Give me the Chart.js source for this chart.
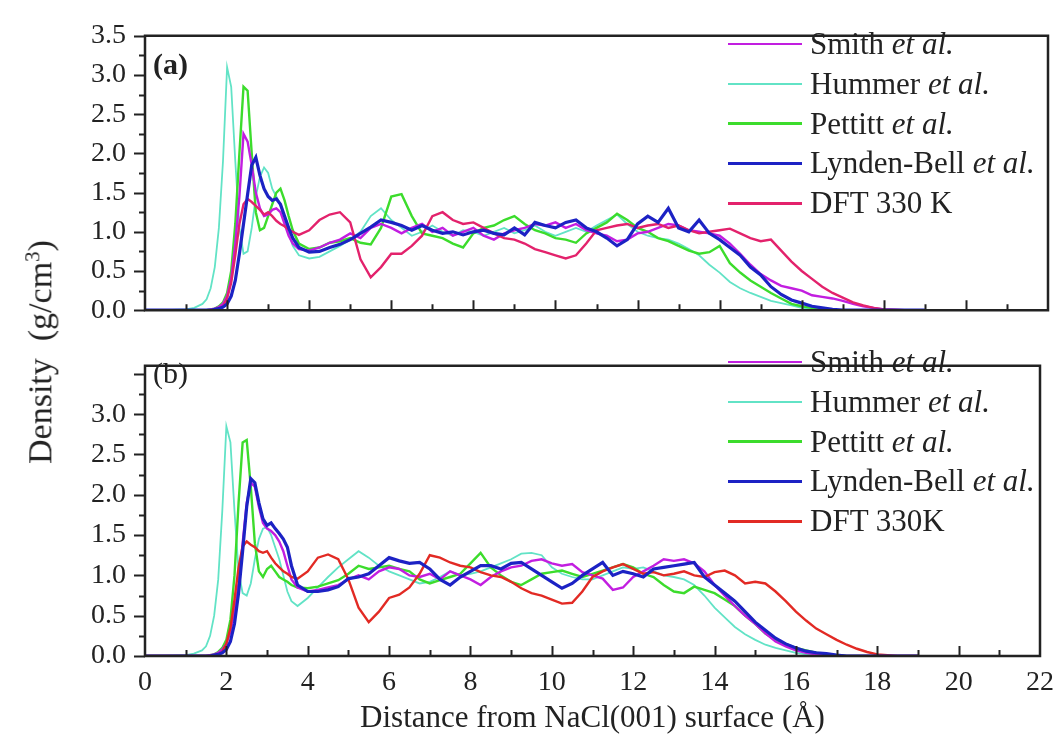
<!DOCTYPE html>
<html>
<head>
<meta charset="utf-8">
<script src="https://cdn.jsdelivr.net/npm/chart.js@4.4.0/dist/chart.umd.min.js"></script>
<style>
  html, body { margin: 0; padding: 0; background: #fff; }
  #wrap { position: relative; width: 1064px; height: 740px; font-family: 'Liberation Serif', 'DejaVu Serif', serif; color: #222; overflow: hidden; }
  canvas { position: absolute; left: 0; }
  #topChart { top: 0; }
  #bottomChart { top: 330px; }
  .legend-row { position: absolute; left: 728px; height: 40px; display: flex; align-items: center; font-size: 31px; white-space: nowrap; }
  .legend-row .swatch { width: 74px; margin-right: 8px; }
  .panel-label { position: absolute; left: 153px; font-size: 30px; line-height: 1; }
  #ytitle { position: absolute; left: 40px; top: 352px; transform: translate(-50%, -50%) rotate(-90deg); white-space: nowrap; font-size: 34px; }
  #ytitle sup { font-size: 21px; }
</style>
</head>
<body>
<div id="wrap">
  <canvas id="topChart" width="1064" height="346"></canvas>
  <canvas id="bottomChart" width="1064" height="410"></canvas>
  <div class="panel-label" style="top:49px; font-weight:bold;">(a)</div>
  <div class="panel-label" style="top:358px;">(b)</div>
  <div id="ytitle">Density&nbsp;&nbsp;(g/cm<sup>3</sup>)</div>
  <div id="legendTop"></div>
  <div id="legendBottom"></div>
</div>
<script>
// distance from the surface (Å), shared by all curves
const distance = [0, 0.5, 1.0, 1.2, 1.4, 1.5, 1.6, 1.7, 1.8, 1.9,
  2.0, 2.1, 2.2, 2.3, 2.4, 2.5, 2.6, 2.7, 2.8, 2.9,
  3.0, 3.1, 3.2, 3.3, 3.4, 3.5, 3.6, 3.75, 4.0,
  4.25, 4.5, 4.75, 5.0, 5.25, 5.5, 5.75, 6.0,
  6.25, 6.5, 6.75, 7.0, 7.25, 7.5, 7.75, 8.0,
  8.25, 8.5, 8.75, 9.0, 9.25, 9.5, 9.75, 10.0,
  10.25, 10.5, 10.75, 11.0, 11.25, 11.5, 11.75, 12.0,
  12.25, 12.5, 12.75, 13.0, 13.25, 13.5, 13.75, 14.0,
  14.25, 14.5, 14.75, 15.0, 15.25, 15.5, 15.75, 16.0,
  16.25, 16.5, 16.75, 17.0, 17.25, 17.5, 17.75, 18.0,
  18.5, 19.0];

const seriesNames = ['Smith et al.', 'Hummer et al.', 'Pettitt et al.', 'Lynden-Bell et al.'];
const dftNameTop = 'DFT 330 K';
const dftNameBottom = 'DFT 330K';

const xTicks = [0, 22, 2];
const yTicksTop = [0, 3.5, 0.5];
const yTicksBottom = [0, 3.6, 0.5];

// panel (a)
const smithA = [0, 0, 0, 0, 0, 0, 0.01, 0.02, 0.04, 0.08,
  0.18, 0.4, 0.85, 1.45, 2.25, 2.15, 1.85, 1.5, 1.3, 1.2,
  1.22, 1.28, 1.3, 1.25, 1.1, 0.95, 0.85, 0.78, 0.76,
  0.8, 0.86, 0.9, 0.98, 0.92, 1.05, 1.1, 1.05,
  0.98, 1.05, 1.1, 1.0, 1.05, 0.95, 1.0, 1.05,
  0.95, 0.9, 0.98, 1.02, 1.05, 1.1, 1.08, 1.12,
  1.05, 1.1, 1.02, 0.98, 0.95, 0.88, 0.9, 0.98,
  1.0, 1.05, 1.1, 1.08, 1.02, 1.0, 0.98, 0.95,
  0.85, 0.72, 0.58, 0.46, 0.38, 0.31, 0.28, 0.25,
  0.19, 0.17, 0.15, 0.12, 0.08, 0.05, 0.03, 0.01,
  0, 0];
const hummerA = [0, 0, 0.01, 0.03, 0.08, 0.14, 0.28, 0.55, 1.05, 1.9,
  3.1, 2.85, 1.9, 1.05, 0.72, 0.75, 1.05, 1.45, 1.7, 1.82,
  1.75, 1.55, 1.45, 1.35, 1.2, 0.98, 0.82, 0.7, 0.66,
  0.68, 0.75, 0.82, 0.9, 1.0, 1.2, 1.3, 1.15,
  1.05, 0.95, 1.0, 1.08, 1.0, 0.95, 1.02, 1.0,
  0.95, 1.0, 1.05, 0.98, 1.02, 1.08, 1.0, 0.95,
  1.0, 1.05, 1.0, 1.08, 1.15, 1.22, 1.1, 1.0,
  0.95, 0.92, 0.9, 0.85, 0.78, 0.7, 0.58, 0.48,
  0.36, 0.28, 0.22, 0.17, 0.12, 0.09, 0.06, 0.03,
  0.02, 0.01, 0, 0, 0, 0, 0, 0,
  0, 0];
const pettittA = [0, 0, 0, 0, 0, 0, 0.01, 0.02, 0.05, 0.1,
  0.22, 0.5, 1.1, 2.0, 2.85, 2.8, 2.0, 1.25, 1.02, 1.05,
  1.2, 1.35, 1.5, 1.55, 1.4, 1.2, 1.02, 0.85, 0.78,
  0.8, 0.86, 0.88, 0.92, 0.86, 0.84, 1.05, 1.45,
  1.48, 1.2, 0.98, 0.95, 0.92, 0.85, 0.8, 0.98,
  1.05, 1.08, 1.15, 1.2, 1.1, 1.02, 0.98, 0.92,
  0.9, 0.86, 0.98, 1.05, 1.12, 1.23, 1.15, 1.05,
  1.0, 0.92, 0.88, 0.82, 0.76, 0.72, 0.74, 0.82,
  0.6, 0.48, 0.38, 0.3, 0.22, 0.15, 0.08, 0.05,
  0.03, 0.01, 0, 0, 0, 0, 0, 0,
  0, 0];
const lyndenA = [0, 0, 0, 0, 0, 0, 0, 0.01, 0.02, 0.04,
  0.08, 0.18, 0.38, 0.72, 1.1, 1.48, 1.85, 1.95, 1.72, 1.55,
  1.45, 1.4, 1.42, 1.35, 1.2, 1.05, 0.92, 0.8, 0.74,
  0.75, 0.8, 0.84, 0.9, 0.98, 1.06, 1.15, 1.12,
  1.08, 1.02, 1.08, 1.02, 0.98, 1.0, 0.96, 1.0,
  1.02, 0.98, 0.96, 1.05, 0.96, 1.12, 1.08, 1.05,
  1.12, 1.15, 1.05, 1.0, 0.92, 0.82, 0.9, 1.1,
  1.2, 1.12, 1.3, 1.05, 1.0, 1.15, 0.98, 0.9,
  0.8, 0.7, 0.55, 0.45, 0.3, 0.2, 0.13, 0.09,
  0.05, 0.03, 0.01, 0, 0, 0, 0, 0,
  0, 0];
const dftA = [0, 0, 0, 0, 0, 0, 0, 0.01, 0.02, 0.05,
  0.15, 0.35, 0.7, 1.1, 1.35, 1.42, 1.38, 1.33, 1.28, 1.22,
  1.25, 1.2, 1.14, 1.1, 1.07, 1.03, 1.0, 0.96, 1.02,
  1.15, 1.22, 1.25, 1.12, 0.65, 0.42, 0.55, 0.72,
  0.72, 0.82, 0.95, 1.2, 1.25, 1.15, 1.1, 1.12,
  1.05, 0.98, 0.92, 0.9, 0.85, 0.78, 0.74, 0.7,
  0.66, 0.7, 0.85, 1.02, 1.05, 1.08, 1.1, 1.05,
  1.08, 1.1, 1.05, 1.08, 1.02, 0.98, 1.0, 1.02,
  1.04, 0.98, 0.92, 0.88, 0.9, 0.76, 0.62, 0.5,
  0.4, 0.3, 0.22, 0.16, 0.1, 0.06, 0.03, 0.01,
  0, 0];

// panel (b)
const smithB = [0, 0, 0, 0, 0, 0, 0.01, 0.02, 0.04, 0.08,
  0.15, 0.3, 0.55, 0.9, 1.4, 1.9, 2.15, 2.1, 1.85, 1.65,
  1.58, 1.55, 1.5, 1.42, 1.3, 1.12, 0.95, 0.85, 0.8,
  0.82, 0.85, 0.88, 0.95, 1.0, 0.95, 1.05, 1.1,
  1.08, 1.0, 0.98, 1.02, 0.95, 1.05, 1.0, 0.95,
  0.88, 0.98, 1.05, 1.1, 1.12, 1.18, 1.2, 1.15,
  1.12, 1.14, 1.04, 1.0, 0.96, 0.82, 0.85, 0.98,
  1.05, 1.12, 1.2, 1.18, 1.2, 1.15, 1.05, 0.88,
  0.75, 0.62, 0.5, 0.4, 0.28, 0.18, 0.12, 0.07,
  0.04, 0.02, 0.01, 0, 0, 0, 0, 0,
  0, 0];
const hummerB = [0, 0, 0.01, 0.03, 0.07, 0.12, 0.25, 0.5, 0.95, 1.8,
  2.85, 2.65, 1.8, 1.05, 0.78, 0.75, 0.9, 1.2, 1.45, 1.58,
  1.6, 1.5, 1.35, 1.2, 1.0, 0.8, 0.68, 0.62, 0.72,
  0.85, 0.98, 1.1, 1.2, 1.3, 1.22, 1.12, 1.05,
  1.0, 0.95, 0.9, 0.92, 0.98, 1.05, 1.0, 1.02,
  1.05, 1.1, 1.15, 1.2, 1.27, 1.28, 1.25, 1.1,
  1.02, 0.98, 0.95, 0.95, 1.0, 1.05, 1.1, 1.08,
  1.1, 1.05, 1.0, 0.98, 0.95, 0.88, 0.75, 0.6,
  0.48, 0.36, 0.27, 0.2, 0.14, 0.1, 0.07, 0.04,
  0.02, 0.01, 0, 0, 0, 0, 0, 0,
  0, 0];
const pettittB = [0, 0, 0, 0, 0, 0, 0.01, 0.02, 0.05, 0.1,
  0.2, 0.45, 1.0, 1.9, 2.65, 2.68, 2.1, 1.4, 1.05, 0.98,
  1.08, 1.12, 1.05, 0.98, 0.95, 0.92, 0.88, 0.85, 0.84,
  0.86, 0.9, 0.94, 1.02, 1.12, 1.08, 1.1, 1.12,
  1.08, 1.05, 0.95, 0.9, 0.94, 0.98, 1.02, 1.15,
  1.28, 1.1, 1.0, 0.92, 0.88, 0.95, 1.02, 1.04,
  1.06, 1.02, 0.98, 1.02, 1.06, 1.1, 1.14, 1.1,
  1.02, 0.98, 0.88, 0.8, 0.78, 0.86, 0.82, 0.78,
  0.7, 0.62, 0.5, 0.4, 0.28, 0.2, 0.15, 0.1,
  0.07, 0.04, 0.02, 0.01, 0, 0, 0, 0,
  0, 0];
const lyndenB = [0, 0, 0, 0, 0, 0, 0, 0.01, 0.02, 0.04,
  0.08, 0.18, 0.4, 0.78, 1.3, 1.85, 2.2, 2.15, 1.9, 1.7,
  1.62, 1.65, 1.58, 1.52, 1.45, 1.35, 1.12, 0.88, 0.8,
  0.8, 0.82, 0.86, 0.96, 0.98, 1.02, 1.12, 1.22,
  1.18, 1.15, 1.16, 1.08, 0.95, 0.88, 0.98, 1.05,
  1.12, 1.12, 1.08, 1.15, 1.16, 1.08, 1.0, 0.92,
  0.84, 0.9, 1.0, 1.08, 1.16, 1.0, 1.05, 1.02,
  0.98, 1.08, 1.1, 1.12, 1.14, 1.16, 0.98, 0.88,
  0.78, 0.68, 0.55, 0.42, 0.32, 0.22, 0.15, 0.1,
  0.06, 0.04, 0.03, 0.01, 0, 0, 0, 0,
  0, 0];
const dftB = [0, 0, 0, 0, 0, 0, 0, 0.01, 0.02, 0.05,
  0.15, 0.35, 0.7, 1.1, 1.36, 1.42, 1.38, 1.35, 1.3, 1.28,
  1.3, 1.22, 1.15, 1.1, 1.05, 1.02, 0.98, 0.96, 1.05,
  1.22, 1.26, 1.2, 0.95, 0.6, 0.42, 0.55, 0.72,
  0.76, 0.85, 1.02, 1.25, 1.22, 1.16, 1.12, 1.1,
  1.04, 1.0, 0.98, 0.92, 0.84, 0.78, 0.75, 0.7,
  0.65, 0.66, 0.8, 0.98, 1.05, 1.1, 1.14, 1.08,
  1.02, 1.04, 1.0, 1.02, 1.05, 1.0, 0.98, 1.04,
  1.06, 1.0, 0.9, 0.92, 0.9, 0.8, 0.68, 0.55,
  0.44, 0.34, 0.27, 0.2, 0.14, 0.09, 0.05, 0.02,
  0, 0];

const colors = ['#c21ee0', '#62e3c6', '#3cdc2c', '#1c22c4'];
const dftColorTop = '#e3226c';
const dftColorBottom = '#e22a24';
const widths = [2.4, 1.8, 2.4, 3.2, 2.4];

const FONT = "'Liberation Serif', 'DejaVu Serif', serif";
const INK = '#222';

function points(values) {
  return distance.map((x, i) => ({ x: x, y: values[i] }));
}

function makeDatasets(series, dftColor) {
  const allColors = colors.concat([dftColor]);
  // blue drawn on top, then DFT, Smith, Pettitt, Hummer
  const drawOrder = [2, 4, 3, 0, 1];
  return series.map((vals, i) => ({
    data: points(vals),
    borderColor: allColors[i],
    borderWidth: widths[i],
    pointRadius: 0,
    tension: 0,
    fill: false,
    order: drawOrder[i]
  }));
}

// frame with minor/major ticks: y ticks point out, x ticks point in
const framePlugin = {
  id: 'frame',
  afterDatasetsDraw(chart) {
    const { ctx, chartArea: a, scales } = chart;
    const x = scales.x, y = scales.y;
    ctx.save();
    ctx.strokeStyle = INK;
    ctx.lineWidth = 2.5;
    ctx.lineCap = 'square';
    ctx.beginPath();
    ctx.rect(a.left, a.top, a.right - a.left, a.bottom - a.top);
    ctx.stroke();
    ctx.lineWidth = 2;
    ctx.lineCap = 'butt';
    ctx.beginPath();
    for (let k = 0; k * 0.25 <= y.max + 1e-9; k++) {
      const py = Math.round(y.getPixelForValue(k * 0.25)) + 0.5;
      const len = k % 2 === 0 ? 11 : 6;
      ctx.moveTo(a.left, py);
      ctx.lineTo(a.left - len, py);
    }
    for (let k = 1; k < 22; k++) {
      const px = Math.round(x.getPixelForValue(k)) + 0.5;
      const len = k % 2 === 0 ? 10 : 6;
      ctx.moveTo(px, a.bottom);
      ctx.lineTo(px, a.bottom - len);
    }
    ctx.stroke();
    ctx.restore();
  }
};

function yScale(ticks, hideAbove) {
  return {
    min: ticks[0], max: ticks[1],
    afterFit(s) { s.width = 145; },
    grid: { display: false, drawTicks: false },
    border: { display: false },
    ticks: {
      stepSize: ticks[2], padding: 19, color: INK, autoSkip: false,
      font: { family: FONT, size: 28 },
      callback: v => (v > hideAbove ? '' : v.toFixed(1))
    }
  };
}

new Chart(document.getElementById('topChart'), {
  type: 'line',
  data: { datasets: makeDatasets([smithA, hummerA, pettittA, lyndenA, dftA], dftColorTop) },
  options: {
    responsive: false,
    animation: false,
    layout: { padding: { top: 26, right: 16, bottom: 5, left: 0 } },
    plugins: { legend: { display: false }, tooltip: { enabled: false } },
    scales: {
      x: { type: 'linear', min: xTicks[0], max: xTicks[1], display: false },
      y: yScale(yTicksTop, 3.51)
    }
  },
  plugins: [framePlugin]
});

new Chart(document.getElementById('bottomChart'), {
  type: 'line',
  data: { datasets: makeDatasets([smithB, hummerB, pettittB, lyndenB, dftB], dftColorBottom) },
  options: {
    responsive: false,
    animation: false,
    layout: { padding: { top: 11, right: 16, bottom: 0, left: 0 } },
    plugins: { legend: { display: false }, tooltip: { enabled: false } },
    scales: {
      x: {
        type: 'linear', min: xTicks[0], max: xTicks[1],
        afterFit(s) { s.height = 84; },
        grid: { display: false, drawTicks: false },
        border: { display: false },
        ticks: {
          stepSize: xTicks[2], padding: 10, color: INK, autoSkip: false, maxRotation: 0,
          font: { family: FONT, size: 28 }
        },
        title: {
          display: true, text: 'Distance from NaCl(001) surface (Å)', color: INK,
          font: { family: FONT, size: 31 }, padding: { top: 0, bottom: 3 }
        }
      },
      y: yScale(yTicksBottom, 3.01)
    }
  },
  plugins: [framePlugin]
});

// legends (html so that "et al." can be italic)
function buildLegend(el, firstRow, dftName, dftColor) {
  const names = seriesNames.concat([dftName]);
  const cols = colors.concat([dftColor]);
  names.forEach((name, i) => {
    const row = document.createElement('div');
    row.className = 'legend-row';
    row.style.top = (firstRow + i * 39.8 - 20) + 'px';
    const sw = document.createElement('span');
    sw.className = 'swatch';
    sw.style.height = Math.max(2, widths[i] + 0.5) + 'px';
    sw.style.background = cols[i];
    const label = document.createElement('span');
    label.innerHTML = name.replace('et al.', '<i>et al.</i>');
    row.appendChild(sw);
    row.appendChild(label);
    el.appendChild(row);
  });
}
buildLegend(document.getElementById('legendTop'), 44, dftNameTop, dftColorTop);
buildLegend(document.getElementById('legendBottom'), 362, dftNameBottom, dftColorBottom);
</script>
</body>
</html>
